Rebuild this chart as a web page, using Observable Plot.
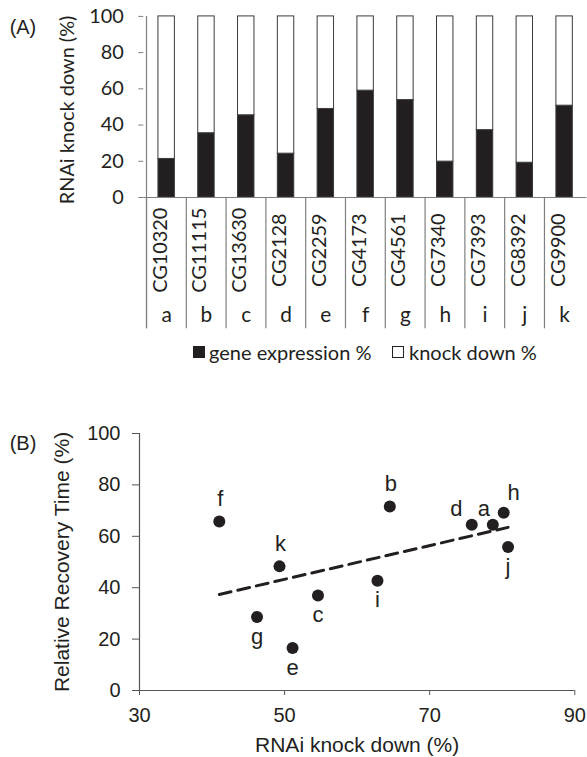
<!DOCTYPE html>
<html><head><meta charset="utf-8">
<script src="https://cdn.jsdelivr.net/npm/d3@7"></script>
<script src="https://cdn.jsdelivr.net/npm/@observablehq/plot@0.6"></script>
<style>
html,body{margin:0;padding:0;background:#fff;overflow:hidden;}
#page{position:relative;width:587px;height:757px;overflow:hidden;background:#fff;}
#top{position:absolute;left:0;top:0;}
#bottom{position:absolute;left:0;top:390px;}
.lg{position:absolute;font-family:Lato,sans-serif;font-size:20px;line-height:20px;color:#231f20;white-space:nowrap;}
.sw{position:absolute;width:10px;height:10px;border:1px solid #231f20;}
</style></head><body>
<div id="page">
  <div id="top"></div>
  <div class="sw" style="left:193px;top:346px;background:#231f20"></div>
  <div class="lg" style="left:209px;top:342px">gene expression %</div>
  <div class="sw" style="left:392px;top:346px;background:#fff"></div>
  <div class="lg" style="left:409px;top:342px">knock down %</div>
  <div id="bottom"></div>
</div>
<script>
// ---- data ----
const genes = ["CG10320","CG11115","CG13630","CG2128","CG2259","CG4173","CG4561","CG7340","CG7393","CG8392","CG9900"];
const letters = ["a","b","c","d","e","f","g","h","i","j","k"];
const geneExpression = [21.3, 35.5, 45.4, 24.2, 48.9, 59.0, 53.8, 19.8, 37.2, 19.2, 50.7];
const recoveryTime = [64.5, 71.6, 37.0, 64.5, 16.5, 65.8, 28.6, 69.2, 42.7, 55.8, 48.3];
const seriesNames = ["gene expression %", "knock down %"];
const yTicksA = [0, 20, 40, 60, 80, 100];
const yTicksB = [0, 20, 40, 60, 80, 100];
const xTicksB = [30, 50, 70, 90];
const labelsAbove = ["b", "f", "k"];
const labelsBelow = ["c", "e", "g", "i", "j"];

// ---- derived tables ----
const barRows = genes.flatMap((g, i) => [
  {gene: g, part: seriesNames[0], value: geneExpression[i]},
  {gene: g, part: seriesNames[1], value: 100 - geneExpression[i]}
]);
const catRows = genes.map((g, i) => ({gene: g, letter: letters[i]}));
const points = letters.map((l, i) => ({label: l, kd: 100 - geneExpression[i], rt: recoveryTime[i]}));

// ---- chart A ----
const W1 = 590, H1 = 340, mL1 = 144, mR1 = 0.5, mT1 = 16, mB1 = 142;
const step = (W1 - mL1 - mR1) / genes.length;
const frameH1 = H1 - mT1 - mB1;
const ink = "#231f20", grid = "#7f7f7f";

const chartA = Plot.plot({
  width: W1, height: H1, marginTop: mT1, marginLeft: mL1, marginRight: mR1, marginBottom: mB1,
  style: {fontFamily: "Lato, sans-serif", fontSize: "20px", color: ink, background: "transparent", overflow: "visible"},
  x: {type: "band", domain: genes, padding: 0, axis: null},
  y: {domain: [0, 100]},
  color: {domain: seriesNames, range: [ink, "#ffffff"]},
  marks: [
    Plot.barY(barRows, {x: "gene", y: "value", fill: "part", stroke: "#3a3a3a", strokeWidth: 1,
      insetLeft: (step - 17) / 2, insetRight: (step - 17) / 2}),
    Plot.ruleY([0], {stroke: grid, strokeWidth: 1.2}),
    Plot.ruleX(genes, {x: d => d, dx: -step / 2, stroke: grid, strokeWidth: 1.2, insetTop: frameH1, insetBottom: -132}),
    Plot.ruleX([genes[0]], {x: d => d, dx: -step / 2, stroke: grid, strokeWidth: 1.2, insetBottom: -132}),
    Plot.axisY({ticks: yTicksA, tickSize: 5, tickPadding: 15, stroke: grid, color: ink, label: null, fontSize: 20}),
    Plot.text(catRows, {x: "gene", text: "gene", frameAnchor: "bottom", rotate: -90, dy: 53, fontSize: 20, fill: ink}),
    Plot.text(catRows, {x: "gene", text: "letter", frameAnchor: "bottom", dy: 125, fontSize: 21, fill: ink}),
    Plot.text(["RNAi knock down (%)"], {text: d => d, frameAnchor: "left", textAnchor: "middle", rotate: -90, dx: -76.5, dy: 3, fontSize: 20, fill: ink}),
    Plot.text(["(A)"], {text: d => d, frameAnchor: "top-left", textAnchor: "middle", dx: -121.5, dy: 3, fontSize: 20, fill: ink,
      fontFamily: "'Liberation Sans', Arial, sans-serif"})
  ]
});
document.getElementById("top").append(chartA);

// ---- chart B ----
const chartB = Plot.plot({
  width: 587, height: 367, marginTop: 43, marginLeft: 139, marginRight: 12.7, marginBottom: 67,
  style: {fontFamily: "'Liberation Sans', Arial, sans-serif", fontSize: "20px", color: ink, background: "transparent", overflow: "visible"},
  x: {domain: [30, 90]},
  y: {domain: [0, 100]},
  marks: [
    Plot.axisY({ticks: yTicksB, tickSize: 7, tickPadding: 12, stroke: "#555", color: ink, label: null, fontSize: 20}),
    Plot.axisX({ticks: xTicksB, tickSize: 5, tickPadding: 12, stroke: "#555", color: ink, label: null, fontSize: 20}),
    Plot.ruleX([30], {stroke: "#555", strokeWidth: 1.2}),
    Plot.ruleY([0], {stroke: "#555", strokeWidth: 1.2}),
    Plot.linearRegressionY(points, {x: "kd", y: "rt", ci: 0, stroke: ink, strokeWidth: 3, strokeDasharray: "12,7"}),
    Plot.dot(points, {x: "kd", y: "rt", r: 6, fill: ink}),
    Plot.text(points.filter(d => labelsAbove.includes(d.label)), {x: "kd", y: "rt", text: "label", lineAnchor: "bottom", dy: -15, dx: 1, fontSize: 22, fill: ink}),
    Plot.text(points.filter(d => labelsBelow.includes(d.label)), {x: "kd", y: "rt", text: "label", lineAnchor: "top", dy: 11, fontSize: 22, fill: ink}),
    Plot.text(points.filter(d => d.label === "d"), {x: "kd", y: "rt", text: "label", lineAnchor: "bottom", dx: -15.5, dy: -9, fontSize: 22, fill: ink}),
    Plot.text(points.filter(d => d.label === "a"), {x: "kd", y: "rt", text: "label", lineAnchor: "bottom", dx: -9, dy: -9, fontSize: 22, fill: ink}),
    Plot.text(points.filter(d => d.label === "h"), {x: "kd", y: "rt", text: "label", lineAnchor: "bottom", dx: 10, dy: -13, fontSize: 22, fill: ink}),
    Plot.text(["Relative Recovery Time (%)"], {text: d => d, frameAnchor: "left", textAnchor: "middle", rotate: -90, dx: -77, fontSize: 21, fill: ink}),
    Plot.text(["RNAi knock down (%)"], {text: d => d, frameAnchor: "bottom", lineAnchor: "top", dy: 47, fontSize: 21, fill: ink}),
    Plot.text(["(B)"], {text: d => d, frameAnchor: "top-left", textAnchor: "middle", dx: -116.5, dy: 2, fontSize: 20, fill: ink})
  ]
});
document.getElementById("bottom").append(chartB);
</script>
</body></html>
